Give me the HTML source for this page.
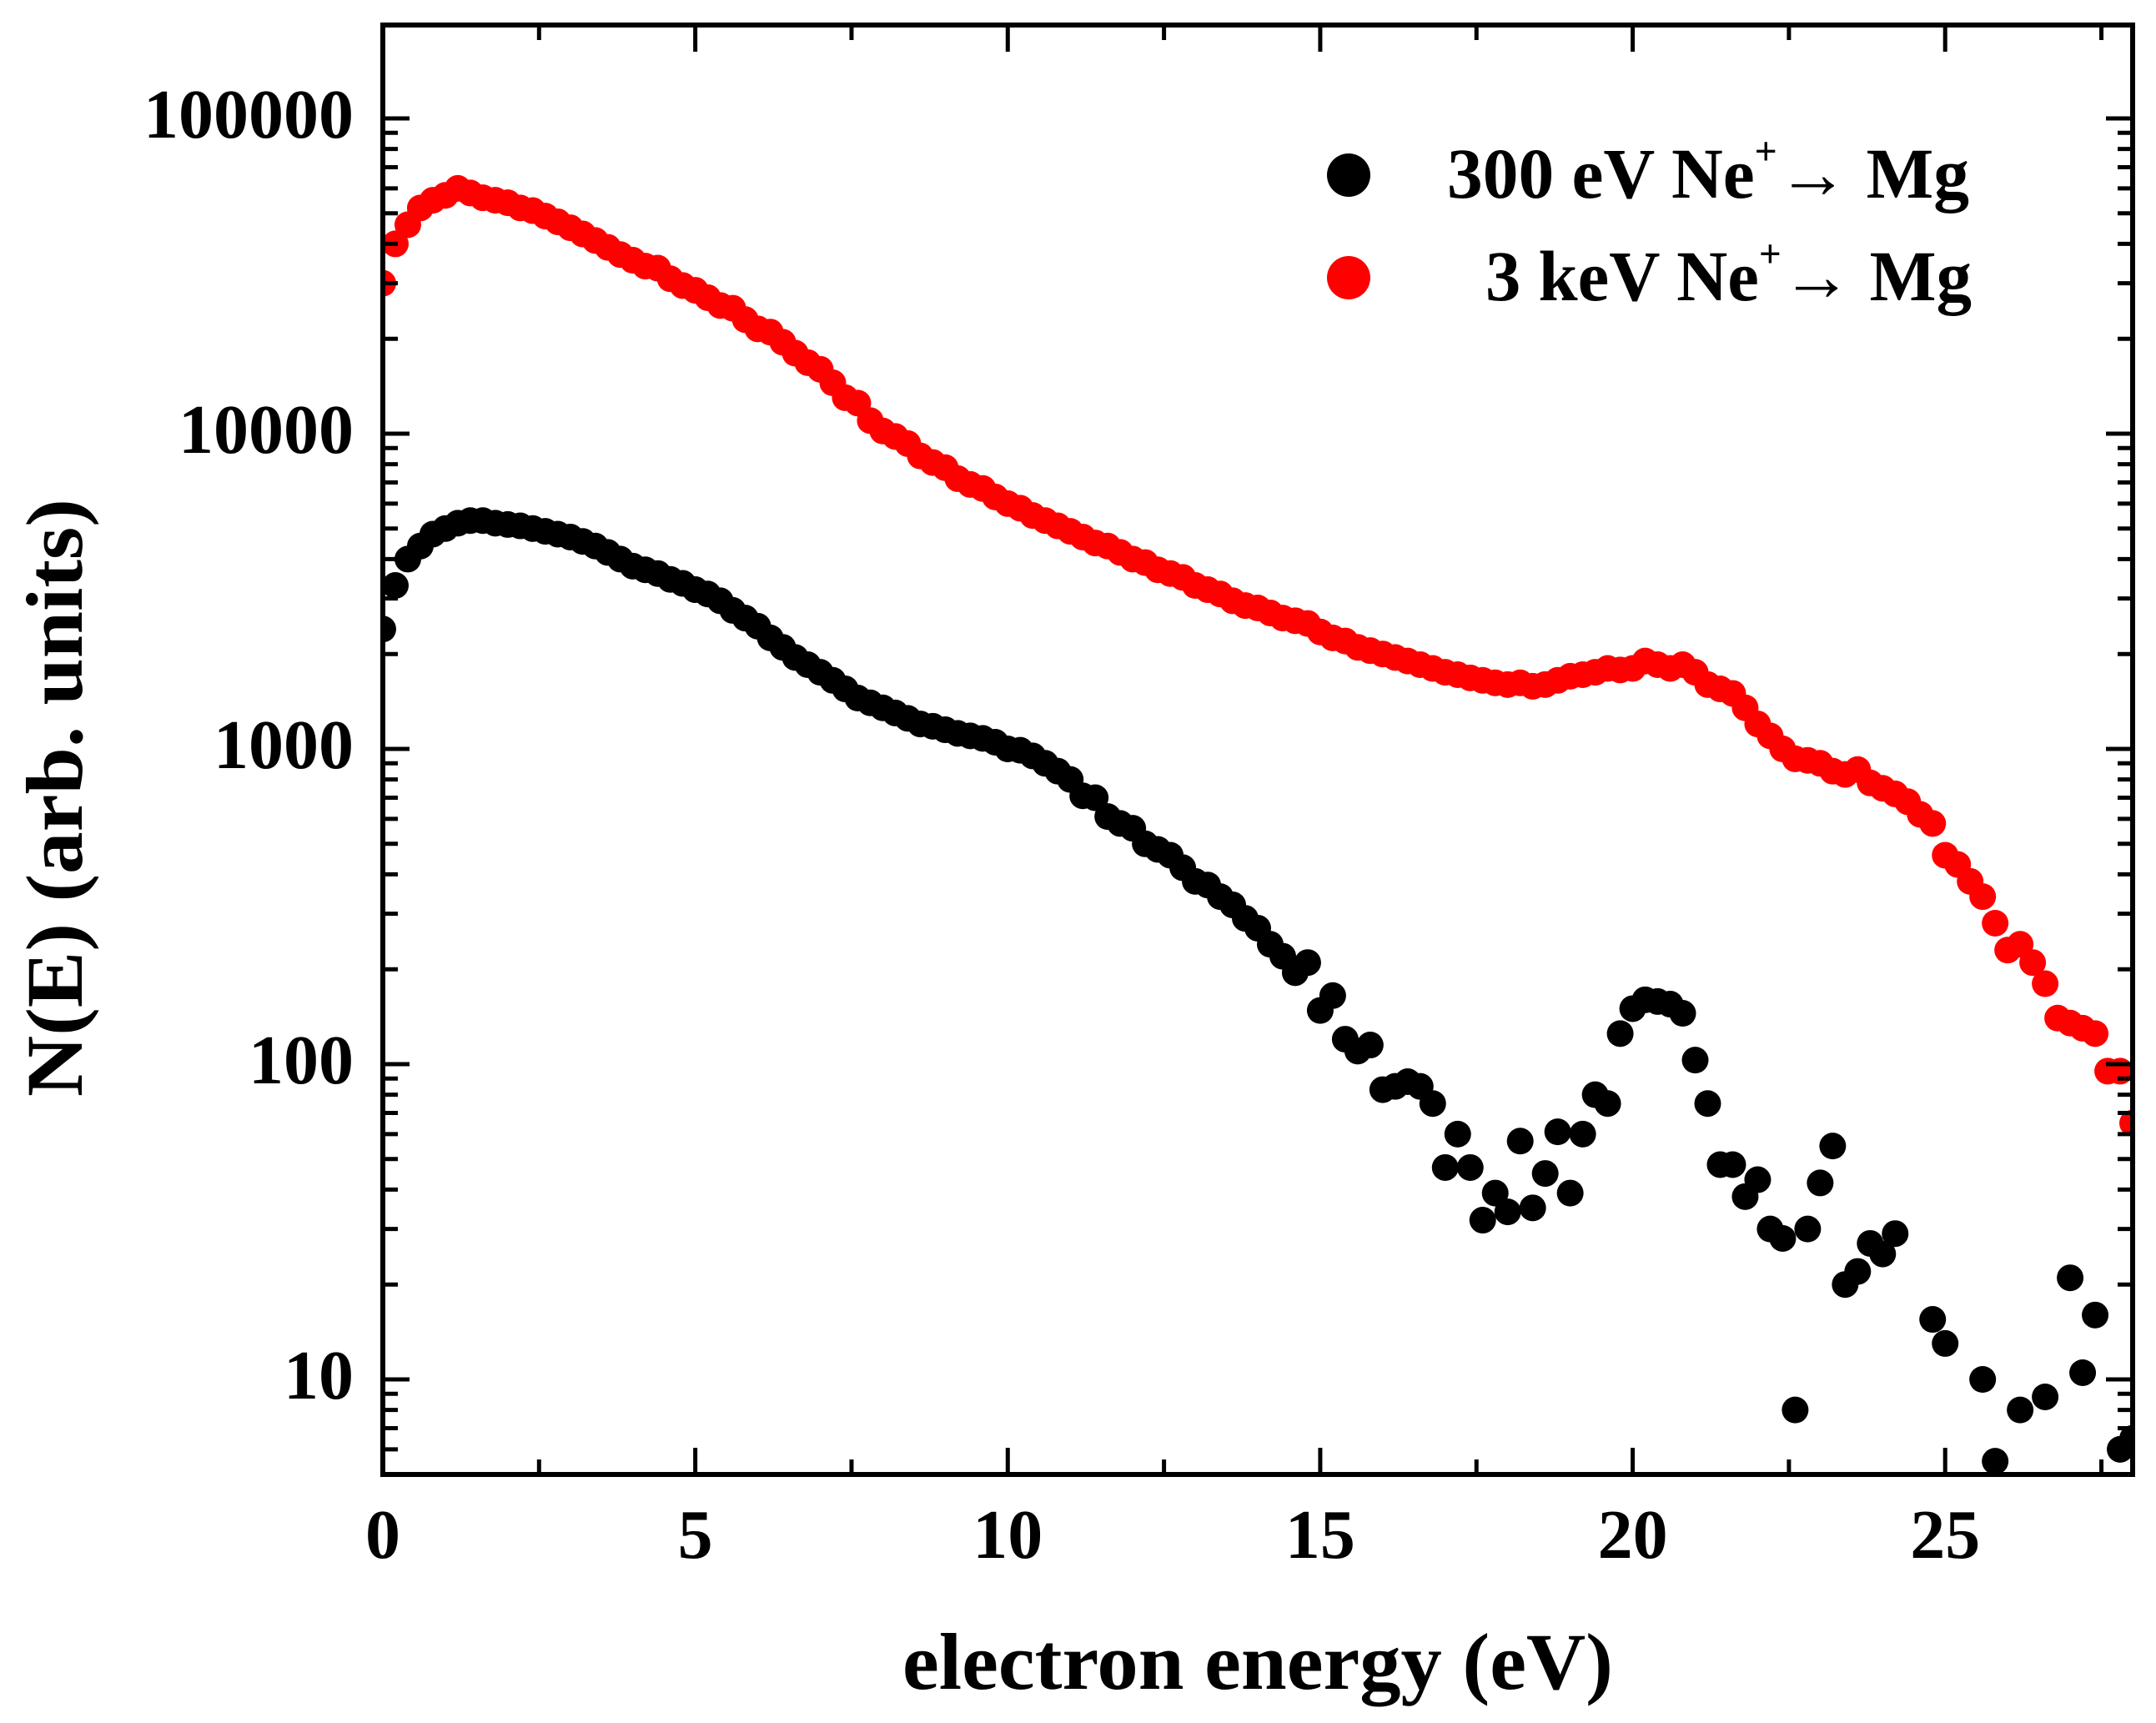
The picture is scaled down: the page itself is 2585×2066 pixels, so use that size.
<!DOCTYPE html>
<html><head><meta charset="utf-8"><style>
html,body{margin:0;padding:0;background:#fff}
svg{display:block}
text{font-family:"Liberation Serif",serif;font-weight:bold;fill:#000}
</style></head><body>
<svg id="chart" width="2585" height="2066" viewBox="0 0 2585 2066" xmlns="http://www.w3.org/2000/svg">
<g id="marks"></g>
<g id="axes"></g>
<g id="legend">
  <circle cx="1617" cy="210" r="26" fill="#000"/>
  <text x="1735" y="237" font-size="86" textLength="626" lengthAdjust="spacingAndGlyphs">300 eV Ne<tspan dy="-40" font-size="48">+</tspan><tspan dy="40">→ Mg</tspan></text>
  <circle cx="1617" cy="333" r="26" fill="#f00"/>
  <text x="1781" y="360" font-size="86" textLength="583" lengthAdjust="spacingAndGlyphs">3 keV Ne<tspan dy="-40" font-size="48">+</tspan><tspan dy="40">→ Mg</tspan></text>
</g>
<text x="1082" y="2025" font-size="96" textLength="852" lengthAdjust="spacingAndGlyphs">electron energy (eV)</text>
<text transform="translate(98,1315) rotate(-90)" x="0" y="0" font-size="96" textLength="717" lengthAdjust="spacingAndGlyphs">N(E) (arb. units)</text>
</svg>
<script>
const xTicks = [0, 5, 10, 15, 20, 25];
const xTickLabels = ["0", "5", "10", "15", "20", "25"];
const yTicks = [10, 100, 1000, 10000, 100000];
const yTickLabels = ["10", "100", "1000", "10000", "100000"];

const redStart = 0, redStep = 0.2;
const redN = [30000,40000,46000,52000,55000,57000,60000,58000,56000,55000,54000,52000,51000,49000,47000,45000,43000,41000,39000,37000,35500,34000,33500,31000,29500,28500,27000,25500,25000,23000,21500,21000,19500,18000,16800,16000,14500,13000,12500,11000,10200,9800,9300,8500,8100,7800,7200,6900,6700,6300,6000,5800,5500,5300,5100,4900,4700,4500,4400,4200,4000,3900,3700,3600,3500,3300,3200,3100,2950,2850,2800,2700,2600,2550,2500,2350,2250,2200,2100,2050,2000,1950,1900,1850,1800,1750,1720,1680,1650,1620,1600,1620,1580,1600,1650,1700,1720,1750,1800,1780,1800,1900,1850,1800,1850,1750,1600,1550,1500,1350,1200,1100,1000,930,920,900,850,830,860,780,750,720,680,620,580,460,430,380,340,280,230,240,210,180,140,135,130,125,95,95,65];

const blackE = [0,0.2,0.4,0.6,0.8,1.0,1.2,1.4,1.6,1.8,2.0,2.2,2.4,2.6,2.8,3.0,3.2,3.4,3.6,3.8,4.0,4.2,4.4,4.6,4.8,5.0,5.2,5.4,5.6,5.8,6.0,6.2,6.4,6.6,6.8,7.0,7.2,7.4,7.6,7.8,8.0,8.2,8.4,8.6,8.8,9.0,9.2,9.4,9.6,9.8,10.0,10.2,10.4,10.6,10.8,11.0,11.2,11.4,11.6,11.8,12.0,12.2,12.4,12.6,12.8,13.0,13.2,13.4,13.6,13.8,14.0,14.2,14.4,14.6,14.8,15.0,15.2,15.4,15.6,15.8,16.0,16.2,16.4,16.6,16.8,17.0,17.2,17.4,17.6,17.8,18.0,18.2,18.4,18.6,18.8,19.0,19.2,19.4,19.6,19.8,20.0,20.2,20.4,20.6,20.8,21.0,21.2,21.4,21.6,21.8,22.0,22.2,22.4,22.6,22.8,23.0,23.2,23.4,23.6,23.8,24.0,24.2,24.8,25.0,25.6,25.8,26.2,26.6,27.0,27.2,27.4,27.8,28.0];
const blackN = [2400,3300,4000,4400,4800,5000,5200,5300,5300,5200,5150,5100,5000,4900,4800,4700,4550,4400,4200,4000,3800,3700,3600,3450,3350,3200,3100,2950,2750,2600,2450,2250,2100,1950,1850,1750,1650,1550,1450,1400,1350,1300,1250,1200,1180,1150,1120,1100,1080,1050,1000,990,950,900,850,800,710,700,610,580,560,500,480,460,420,380,370,340,320,290,270,240,220,195,210,148,165,120,110,115,83,85,88,85,75,47,60,47,32,39,34,57,35,45,61,39,60,80,75,125,150,160,158,155,145,103,75,48,48,38,43,30,28,8,30,42,55,20,22,27,25,29,15.5,13,10,5.5,8,8.8,21,10.5,16,6,6.5];

const X0 = 459, X1 = 2557, Y0 = 30, Y1 = 1768;
const xMin = 0, xMax = 28;
const decadePx = 378, yRef = 142;
function xs(v){ return X0 + (v - xMin) / (xMax - xMin) * (X1 - X0); }
function ys(v){ return yRef + (5 - Math.log10(v)) * decadePx; }

const NS = "http://www.w3.org/2000/svg";
const marks = document.getElementById('marks');
const axes = document.getElementById('axes');
function mk(tag, attrs, parent){
  const el = document.createElementNS(NS, tag);
  for (const k in attrs) el.setAttribute(k, attrs[k]);
  parent.appendChild(el);
  return el;
}
const clip = mk('clipPath', {id:'plotclip'}, document.getElementById('chart'));
mk('rect', {x:X0, y:Y0, width:X1-X0, height:Y1-Y0}, clip);
marks.setAttribute('clip-path', 'url(#plotclip)');

redN.forEach((v, i) => {
  const c = mk('circle', {cx: xs(redStart + i*redStep), cy: ys(v), r: 16, fill: '#f00'}, marks);
  
  
});
blackE.forEach((e, i) => {
  const c = mk('circle', {cx: xs(e), cy: ys(blackN[i]), r: 16, fill: '#000'}, marks);
  
  
});

const frame = mk('rect', {x:X0, y:Y0, width:X1-X0, height:Y1-Y0, fill:'none', stroke:'#000', 'stroke-width':6}, axes);



for (let v = 0; v <= 27.5; v += 2.5) {
  const major = (v % 5 === 0);
  const L = major ? 32 : 18;
  const x = xs(v);
  const t1 = mk('line', {x1:x, x2:x, y1:Y1, y2:Y1-L, stroke:'#000', 'stroke-width':5}, axes);
  
  
  const t2 = mk('line', {x1:x, x2:x, y1:Y0, y2:Y0+L, stroke:'#000', 'stroke-width':5}, axes);
  
  
}
xTicks.forEach((v, i) => {
  const t = mk('text', {x: xs(v), y: 1868, 'font-size': 84, 'text-anchor': 'middle'}, axes);
  t.textContent = xTickLabels[i];
  
  
});

for (let d = 0; d <= 5; d++) {
  for (let m = 1; m <= 9; m++) {
    const v = m * Math.pow(10, d);
    const y = ys(v);
    if (y < Y0 || y > Y1) continue;
    const L = (m === 1) ? 32 : 18;
    const a = mk('line', {x1:X0, x2:X0+L, y1:y, y2:y, stroke:'#000', 'stroke-width':5}, axes);
    
    
    const b = mk('line', {x1:X1, x2:X1-L, y1:y, y2:y, stroke:'#000', 'stroke-width':5}, axes);
    
    
  }
}
yTicks.forEach((v, i) => {
  const t = mk('text', {x: 424, y: ys(v) + 23, 'font-size': 84, 'text-anchor': 'end'}, axes);
  t.textContent = yTickLabels[i];
  
  
});
</script>
</body></html>
